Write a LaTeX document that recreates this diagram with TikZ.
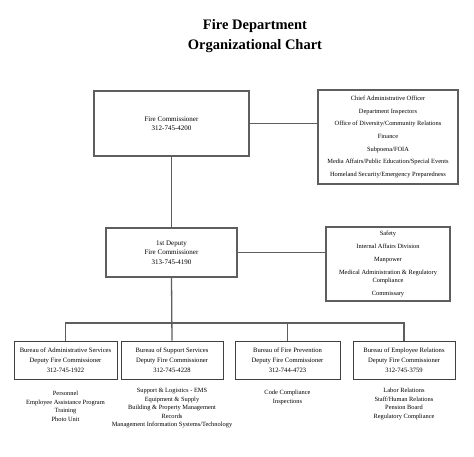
\documentclass[tikz,border=0pt]{standalone}
\usepackage{fontspec}
\setmainfont{Liberation Serif}
\usetikzlibrary{positioning}

\definecolor{chartgray}{HTML}{5E5E5E}

\tikzset{
	topbox/.style = {draw = chartgray, line width = 2.4pt, align = center, inner sep = 0pt,
		font = \fontsize{7}{9.5}\selectfont},
	staffbox/.style = {topbox, font = \fontsize{6.4}{8}\selectfont},
	bureaubox/.style = {draw = black!75, line width = 0.9pt, align = center, inner sep = 0pt,
		minimum width = 103pt, minimum height = 38pt, font = \fontsize{6.6}{10}\selectfont},
	unitlist/.style = {align = center, anchor = north, inner sep = 0pt,
		font = \fontsize{6.4}{8.6}\selectfont},
	wire/.style = {draw = chartgray, line width = 1.3pt}
}

\begin{document}
\begin{tikzpicture}[x = 1pt, y = -1pt]

	\useasboundingbox (0, 0) rectangle (474, 457);

	% Title

	\node (title) [font = \fontsize{14.5}{20}\selectfont\bfseries, align = center] at (255, 36)
		{Fire Department\\Organizational Chart};

	% Upper boxes

	\node (comm) [topbox, minimum width = 155pt, minimum height = 65pt] at (171.5, 123.5)
		{Fire Commissioner\\312-745-4200};
	\node (staff) [staffbox, minimum width = 140pt, minimum height = 94pt] at (388, 137)
		{Chief Administrative Officer\\[4.6pt]
		Department Inspectors\\[4.6pt]
		Office of Diversity/Community Relations\\[4.6pt]
		Finance\\[4.6pt]
		Subpoena/FOIA\\[4.6pt]
		Media Affairs/Public Education/Special Events\\[4.6pt]
		Homeland Security/Emergency Preparedness};

	\node (dep) [topbox, minimum width = 131pt, minimum height = 49pt] at (171.5, 252.5)
		{1st Deputy\\Fire Commissioner\\313-745-4190};
	\node (aux) [staffbox, minimum width = 124pt, minimum height = 74pt] at (388, 264)
		{Safety\\[4.8pt]
		Internal Affairs Division\\[4.8pt]
		Manpower\\[4.8pt]
		Medical Administration \& Regulatory\\
		Compliance\\[4.8pt]
		Commissary};

	% Bureaus

	\node (adm) [bureaubox] at (65.5, 360)
		{Bureau of Administrative Services\\Deputy Fire Commissioner\\312-745-1922};
	\node (sup) [bureaubox, minimum width = 102pt] at (172, 360)
		{Bureau of Support Services\\Deputy Fire Commissioner\\312-745-4228};
	\node (fpb) [bureaubox, minimum width = 105pt] at (287.5, 360)
		{Bureau of Fire Prevention\\Deputy Fire Commissioner\\312-744-4723};
	\node (emp) [bureaubox, minimum width = 102pt] at (404, 360)
		{Bureau of Employee Relations\\Deputy Fire Commissioner\\312-745-3759};

	% Units under each bureau

	\node (admunits) [unitlist] at (65.5, 391)
		{Personnel\\Employee Assistance Program\\Training\\Photo Unit};
	\node (supunits) [unitlist] at (172, 388)
		{Support \& Logistics - EMS\\Equipment \& Supply\\Building \& Property Management\\Records\\Management Information Systems/Technology};
	\node (fpbunits) [unitlist] at (287.5, 390)
		{Code Compliance\\Inspections};
	\node (empunits) [unitlist] at (404, 388)
		{Labor Relations\\Staff/Human Relations\\Pension Board\\Regulatory Compliance};

	% Wires

	\coordinate (bus) at (0, 323);

	\begin{scope}[wire]

		\draw (comm.south) -- (dep.north);
		\draw (comm.east) -- (comm.east -| staff.west);
		\draw (dep.east) -- (dep.east -| aux.west);
		\draw (dep.south) -- (sup.north);
		\draw (adm.north) -- (adm.north |- bus) -| (emp.north);
		\draw (fpb.north) -- (fpb.north |- bus);

	\end{scope}

\end{tikzpicture}
\end{document}
